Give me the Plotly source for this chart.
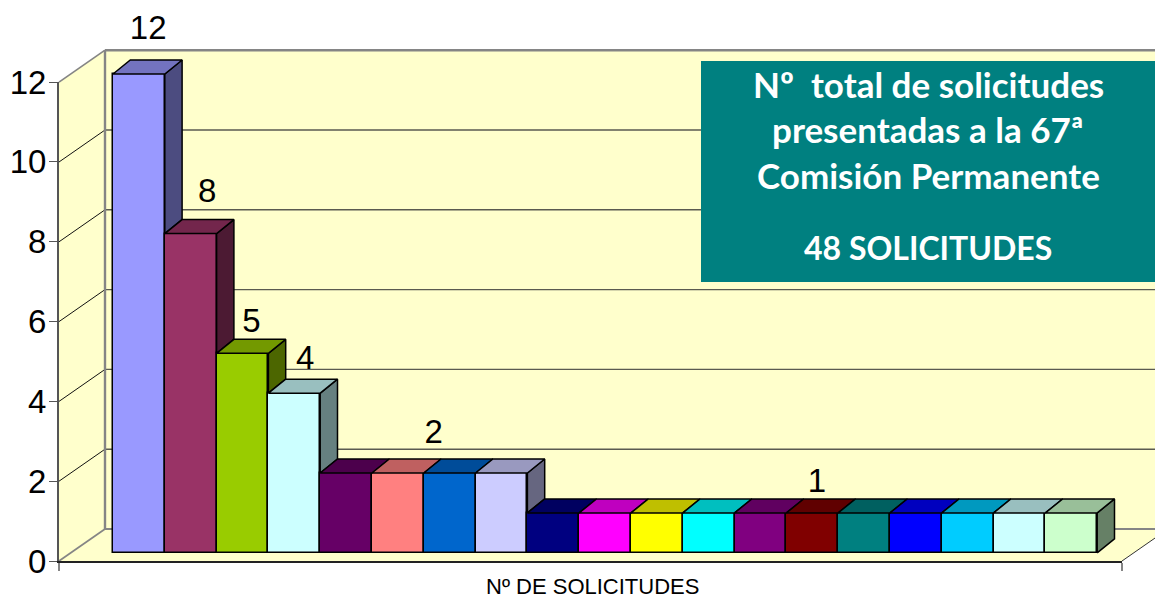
import plotly.graph_objects as go

# ---- data ----
values = [12, 8, 5, 4, 2, 2, 2, 2, 1, 1, 1, 1, 1, 1, 1, 1, 1, 1, 1]
bar_colors = ["#9999FF", "#993366", "#99CC00", "#CCFFFF", "#660066", "#FF8080", "#0066CC",
              "#CCCCFF", "#000080", "#FF00FF", "#FFFF00", "#00FFFF", "#800080", "#800000",
              "#008080", "#0000FF", "#00CCFF", "#CCFFFF", "#CCFFCC"]
label_text = ["12", "8", "5", "4", "2", "1"]
label_x = [0.18, 1.32, 2.17, 3.21, 5.69, 13.09]
label_y = [13.08, 8.99, 5.75, 4.81, 2.97, 1.74]
y_ticks = [0, 2, 4, 6, 8, 10, 12]
x_title = "Nº DE SOLICITUDES"
box_lines = ["Nº  total de solicitudes", "presentadas a la 67ª", "Comisión Permanente", "48 SOLICITUDES"]

# ---- geometry of the pseudo 3D scene, in axis units ----
W, H = 1155, 598
PITCH, UNIT = 51.8, 39.9          # px per category / per value
X0, Y0 = 113.0, 552.8             # px of left edge of first bar, bar baseline
bar_dx, bar_dy = 17.3 / PITCH, 14.0 / UNIT
wall_dx, wall_dy = 46.0 / PITCH, 32.0 / UNIT
front_l = (59 - X0) / PITCH - 0.5
front_r = (1122 - X0) / PITCH - 0.5
floor_y = (Y0 - 561) / UNIT
x_range = [-X0 / PITCH - 0.5, (W - X0) / PITCH - 0.5]
y_range = [(Y0 - H) / UNIT, Y0 / UNIT]
TOPV = y_ticks[-1]


def shade(hex_color, k):
    r, g, b = (int(hex_color[i:i + 2], 16) for i in (1, 3, 5))
    return f"rgb({round(r * k)},{round(g * k)},{round(b * k)})"


def poly(pts, fill=None, color="black", width=1, layer="below"):
    d = "M" + " L".join(f"{x:.4f},{y:.4f}" for x, y in pts) + (" Z" if fill else "")
    return dict(type="path", path=d, xref="x", yref="y", layer=layer,
                fillcolor=fill if fill else "rgba(0,0,0,0)",
                line=dict(color=color, width=width))


WALL = "#FFFFCC"
EDGE = "#858585"
bl, br = front_l + wall_dx, front_r + wall_dx
back0 = floor_y + wall_dy
shapes = [
    poly([(front_l, floor_y), (bl, back0), (bl, back0 + TOPV), (front_l, floor_y + TOPV)], WALL, WALL, 0),
    poly([(bl, back0), (br, back0), (br, back0 + TOPV), (bl, back0 + TOPV)], WALL, WALL, 0),
    poly([(front_l, floor_y), (front_r, floor_y), (br, back0), (bl, back0)], WALL, WALL, 0),
]
for t in y_ticks[1:-1]:
    shapes.append(poly([(front_l, floor_y + t), (bl, back0 + t)], color="#111111", width=1))
    shapes.append(poly([(bl, back0 + t), (br, back0 + t)], color="#5A5A50", width=1.4))
shapes += [
    poly([(bl, back0), (bl, back0 + TOPV)], color=EDGE, width=2.4),
    poly([(bl, back0 + TOPV), (br, back0 + TOPV)], color=EDGE, width=2.4),
    poly([(front_l, floor_y + TOPV), (bl, back0 + TOPV)], color=EDGE, width=1.6),
    poly([(bl, back0), (br, back0)], color=EDGE, width=2),
    poly([(front_l, floor_y), (bl, back0)], color=EDGE, width=1.6),
    poly([(front_r, floor_y), (br, back0)], color="#333333", width=1),
]
shapes.append(dict(type="rect", xref="paper", yref="paper", layer="above",
                   x0=701 / W, x1=1, y0=1 - 282 / H, y1=1 - 61 / H,
                   fillcolor="#008080", line=dict(width=0)))

fig = go.Figure()
fig.add_trace(go.Bar(x=list(range(len(values))), y=values, width=1,
                     marker=dict(color=bar_colors, line=dict(color="black", width=1.5)),
                     hoverinfo="skip", showlegend=False))

# side and top faces, derived from the values
for i, (v, c) in enumerate(zip(values, bar_colors)):
    l, r = i - 0.5, i + 0.5
    nxt = values[i + 1] if i + 1 < len(values) else 0
    if v > nxt:
        fig.add_trace(go.Scatter(
            x=[r, r + bar_dx, r + bar_dx, r, r],
            y=[nxt, nxt + bar_dy, v + bar_dy, v, nxt],
            mode="lines", fill="toself", fillcolor=shade(c, 0.5),
            line=dict(color="black", width=1.5), hoverinfo="skip", showlegend=False))
    fig.add_trace(go.Scatter(
        x=[l, l + bar_dx, r + bar_dx, r, l],
        y=[v, v + bar_dy, v + bar_dy, v, v],
        mode="lines", fill="toself", fillcolor=shade(c, 0.75),
        line=dict(color="black", width=1.5), hoverinfo="skip", showlegend=False))

fig.add_trace(go.Scatter(x=label_x, y=label_y, text=label_text, mode="text",
                         textposition="middle center",
                         textfont=dict(family="Liberation Sans", size=33, color="black"),
                         hoverinfo="skip", showlegend=False, cliponaxis=False))
# carrier for the visible value axis and the category axis
fig.add_trace(go.Scatter(x=[None], y=[None], xaxis="x2", yaxis="y2", mode="markers",
                         hoverinfo="skip", showlegend=False))

annotations = []
for txt, yp, fs in zip(box_lines, [84, 129, 175, 247], [35, 35, 35, 32]):
    annotations.append(dict(text=f"<b>{txt}</b>", xref="paper", yref="paper", x=928 / W, y=1 - yp / H,
                            xanchor="center", yanchor="middle", showarrow=False,
                            font=dict(family="Lato", size=fs, color="white")))
annotations.append(dict(text=x_title, xref="paper", yref="paper", x=592 / W, y=1 - 586 / H,
                        xanchor="center", yanchor="middle", showarrow=False,
                        font=dict(family="Liberation Sans", size=22, color="black")))

fig.update_layout(
    width=W, height=H, autosize=False, margin=dict(l=0, r=0, t=0, b=0),
    paper_bgcolor="white", plot_bgcolor="rgba(0,0,0,0)", showlegend=False,
    shapes=shapes, annotations=annotations, bargap=0,
    xaxis=dict(domain=[0, 1], range=x_range, visible=False, fixedrange=True),
    yaxis=dict(domain=[0, 1], range=y_range, visible=False, fixedrange=True),
    xaxis2=dict(domain=[59 / W, 1122 / W], range=[0, 1], anchor="y2", fixedrange=True, automargin=False,
                showline=True, linecolor="#222222", linewidth=1.5, showgrid=False, zeroline=False,
                tickvals=[0, 1], ticktext=["", ""], ticks="outside", ticklen=8, tickwidth=2, tickcolor=EDGE),
    yaxis2=dict(domain=[1 - 561 / H, 1 - 82 / H], range=[0, 12], anchor="x2", fixedrange=True, automargin=False,
                showline=True, linecolor="#555555", linewidth=2, showgrid=False, zeroline=False,
                tickvals=y_ticks, ticks="outside", ticklen=8, tickwidth=1.2, tickcolor="#555555",
                ticklabelstandoff=-4,
                tickfont=dict(family="Liberation Sans", size=33, color="black")),
)
fig.write_html("out.html", config={"displayModeBar": False},
               post_script="document.documentElement.style.margin='0';document.body.style.margin='0';")
